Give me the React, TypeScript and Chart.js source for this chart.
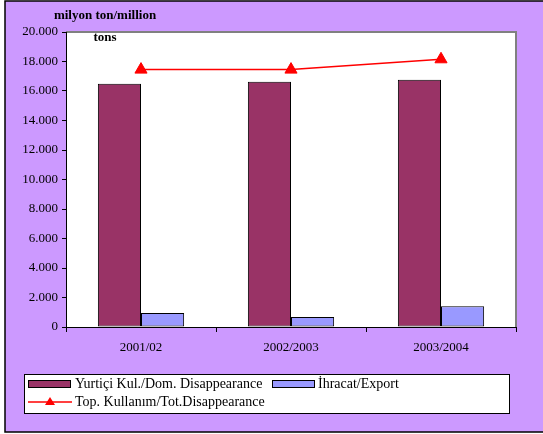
import React, { useEffect, useRef } from "react";
import { Chart, registerables } from "chart.js";

Chart.register(...registerables);

const categories = ["2001/02", "2002/2003", "2003/2004"];
const domestic = [16500, 16620, 16760];
const exportVals = [950, 680, 1400];
const total = [17450, 17450, 18150];
const seriesLabels = [
  "Yurtiçi Kul./Dom. Disappearance",
  "İhracat/Export",
  "Top. Kullanım/Tot.Disappearance",
];
const titleLine1 = "milyon ton/million";
const titleLine2 = "tons";

const SERIF = "'Liberation Serif', 'Times New Roman', serif";
const BG = "#CC99FF";

const fmt = (v: number) => String(v).replace(/\B(?=(\d{3})+(?!\d))/g, ".");

const decorPlugin = {
  id: "decor",
  beforeDraw(chart: any) {
    const { ctx, chartArea: a } = chart;
    ctx.save();
    ctx.fillStyle = "#ffffff";
    ctx.fillRect(0, 0, chart.width, chart.height);
    ctx.fillStyle = BG;
    ctx.fillRect(5, 1, chart.width, 431);
    ctx.strokeStyle = "#000000";
    ctx.lineWidth = 1.5;
    ctx.strokeRect(5, 1, chart.width + 10, 431);
    ctx.fillStyle = "#ffffff";
    ctx.fillRect(a.left, a.top, a.right - a.left, a.bottom - a.top);
    ctx.strokeStyle = "#808080";
    ctx.lineWidth = 2;
    ctx.beginPath();
    ctx.moveTo(a.left, a.top);
    ctx.lineTo(a.right, a.top);
    ctx.lineTo(a.right, a.bottom);
    ctx.stroke();
    ctx.restore();
  },
  afterDraw(chart: any) {
    const { ctx } = chart;
    ctx.save();
    ctx.fillStyle = "#000000";
    ctx.font = "bold 13px " + SERIF;
    ctx.textAlign = "center";
    ctx.textBaseline = "middle";
    ctx.fillText(titleLine1, 105, 16);
    ctx.fillText(titleLine2, 105, 38);

    // legend
    const lx = 24, ly = 374, lw = 485, lh = 39;
    ctx.fillStyle = "#ffffff";
    ctx.fillRect(lx, ly, lw, lh);
    ctx.strokeStyle = "#000000";
    ctx.lineWidth = 1;
    ctx.strokeRect(lx + 0.5, ly + 0.5, lw, lh);
    const ds = chart.data.datasets;
    ctx.font = "14px " + SERIF;
    ctx.textAlign = "left";
    ctx.textBaseline = "middle";
    // item 1
    ctx.fillStyle = ds[0].backgroundColor;
    ctx.fillRect(28, 380, 42, 7);
    ctx.strokeRect(28.5, 380.5, 42, 7);
    ctx.fillStyle = "#000";
    ctx.fillText(ds[0].label, 75, 384);
    // item 2
    ctx.fillStyle = ds[1].backgroundColor;
    ctx.fillRect(272, 380, 42, 7);
    ctx.strokeRect(272.5, 380.5, 42, 7);
    ctx.fillStyle = "#000";
    ctx.fillText(ds[1].label, 318, 384);
    // item 3
    ctx.strokeStyle = "#FF0000";
    ctx.lineWidth = 1.5;
    ctx.beginPath();
    ctx.moveTo(28, 402);
    ctx.lineTo(72, 402);
    ctx.stroke();
    ctx.fillStyle = "#FF0000";
    ctx.beginPath();
    ctx.moveTo(50, 397);
    ctx.lineTo(55, 405);
    ctx.lineTo(45, 405);
    ctx.closePath();
    ctx.fill();
    ctx.fillStyle = "#000";
    ctx.fillText(ds[2].label, 75, 402);
    ctx.restore();
  },
};

export default function App() {
  const ref = useRef<HTMLCanvasElement>(null);
  useEffect(() => {
    document.body.style.margin = "0";
    const chart = new Chart(ref.current!, {
      type: "bar",
      data: {
        labels: categories,
        datasets: [
          {
            type: "bar",
            label: seriesLabels[0],
            data: domestic,
            backgroundColor: "#993366",
            borderColor: "#000000",
            borderWidth: 1,
            borderSkipped: false,
            categoryPercentage: 0.575,
            barPercentage: 1,
            order: 2,
          },
          {
            type: "bar",
            label: seriesLabels[1],
            data: exportVals,
            backgroundColor: "#9999FF",
            borderColor: "#000000",
            borderWidth: 1,
            borderSkipped: false,
            categoryPercentage: 0.575,
            barPercentage: 1,
            order: 2,
          },
          {
            type: "line",
            label: seriesLabels[2],
            data: total,
            borderColor: "#FF0000",
            backgroundColor: "#FF0000",
            borderWidth: 1.5,
            pointStyle: "triangle",
            pointRadius: 7,
            pointBorderWidth: 1,
            order: 1,
          } as any,
        ],
      },
      options: {
        responsive: false,
        animation: false,
        devicePixelRatio: 1,
        layout: { padding: { left: 0, top: 32, right: 27, bottom: 77 } },
        plugins: { legend: { display: false }, tooltip: { enabled: false } },
        scales: {
          x: {
            grid: {
              offset: true,
              drawOnChartArea: false,
              drawTicks: true,
              tickLength: 5,
              color: "#000000",
            },
            border: { display: true, color: "#000000", width: 1 },
            ticks: {
              color: "#000000",
              font: { family: SERIF, size: 13 },
              padding: 8,
              maxRotation: 0,
            },
            afterFit(scale: any) {
              scale.height = 30;
            },
          },
          y: {
            min: 0,
            max: 20000,
            ticks: {
              stepSize: 2000,
              color: "#000000",
              font: { family: SERIF, size: 13 },
              padding: 4,
              callback: (v: any) => fmt(Number(v)),
            },
            grid: {
              drawOnChartArea: false,
              drawTicks: true,
              tickLength: 4,
              color: "#000000",
            },
            border: { display: true, color: "#000000", width: 1 },
            afterFit(scale: any) {
              scale.width = 66;
            },
          },
        },
      },
      plugins: [decorPlugin],
    });
    return () => chart.destroy();
  }, []);
  return <canvas ref={ref} width={543} height={434} style={{ display: "block" }} />;
}
